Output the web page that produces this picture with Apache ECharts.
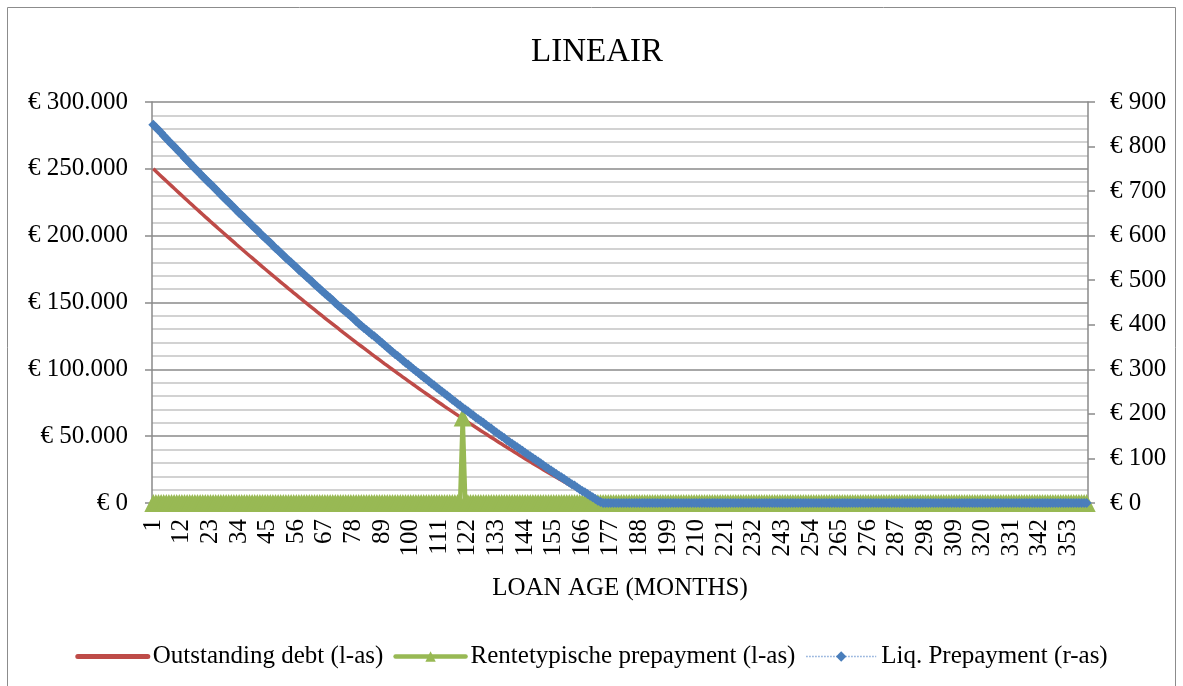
<!DOCTYPE html>
<html>
<head>
<meta charset="utf-8">
<title>LINEAIR</title>
<script src="https://cdn.jsdelivr.net/npm/echarts@6/dist/echarts.min.js"></script>
<style>
  html, body { margin: 0; padding: 0; background: #ffffff; }
  #chart { width: 1183px; height: 686px; }
</style>
</head>
<body>
<div id="chart"></div>
<script>
// Loan age in months, 1 .. 360
const months = [];
for (let m = 1; m <= 360; m++) months.push(String(m));

// Outstanding debt per month (left axis, EUR)
const outstandingDebt = [
  250000, 248160, 246330, 244500, 242670, 240850, 239040, 237230, 235420, 233620,
  231820, 230030, 228240, 226450, 224670, 222900, 221130, 219360, 217600, 215850,
  214090, 212350, 210600, 208860, 207130, 205400, 203680, 201950, 200240, 198530,
  196820, 195120, 193420, 191730, 190040, 188350, 186670, 185000, 183330, 181660,
  180000, 178350, 176690, 175040, 173400, 171760, 170130, 168500, 166870, 165250,
  163640, 162030, 160420, 158820, 157220, 155630, 154040, 152450, 150870, 149300,
  147730, 146160, 144600, 143040, 141490, 139940, 138400, 136860, 135330, 133800,
  132270, 130750, 129230, 127720, 126220, 124710, 123210, 121720, 120230, 118750,
  117270, 115790, 114320, 112860, 111390, 109940, 108480, 107040, 105590, 104150,
  102720, 101290, 99860, 98440, 97030, 95620, 94210, 92810, 91410, 90010,
  88630, 87240, 85860, 84490, 83110, 81750, 80390, 79030, 77680, 76330,
  74980, 73650, 72310, 70980, 69660, 68330, 67020, 65710, 64400, 63100,
  61800, 60500, 59220, 57930, 56650, 55380, 54100, 52840, 51580, 50320,
  49070, 47820, 46570, 45330, 44100, 42870, 41640, 40420, 39210, 37990,
  36790, 35580, 34390, 33190, 32000, 30820, 29640, 28460, 27290, 26120,
  24960, 23810, 22650, 21500, 20360, 19220, 18090, 16960, 15830, 14710,
  13590, 12480, 11370, 10270, 9170, 8080, 6990, 5900, 4820, 3750,
  2680, 1610, 550,
  0,0,0,0,0,0,0,0,0,0,0,0,0,0,0,0,0,0,0,0,
  0,0,0,0,0,0,0,0,0,0,0,0,0,0,0,0,0,0,0,0,
  0,0,0,0,0,0,0,0,0,0,0,0,0,0,0,0,0,0,0,0,
  0,0,0,0,0,0,0,0,0,0,0,0,0,0,0,0,0,0,0,0,
  0,0,0,0,0,0,0,0,0,0,0,0,0,0,0,0,0,0,0,0,
  0,0,0,0,0,0,0,0,0,0,0,0,0,0,0,0,0,0,0,0,
  0,0,0,0,0,0,0,0,0,0,0,0,0,0,0,0,0,0,0,0,
  0,0,0,0,0,0,0,0,0,0,0,0,0,0,0,0,0,0,0,0,
  0,0,0,0,0,0,0,0,0,0,0,0,0,0,0,0,0,0,0,0,
  0,0,0,0,0,0,0
];

// Rate-reset prepayment (left axis, EUR): one lump sum in month 120
const rentetypischePrepayment = [
  0,0,0,0,0,0,0,0,0,0,0,0,0,0,0,0,0,0,0,0,
  0,0,0,0,0,0,0,0,0,0,0,0,0,0,0,0,0,0,0,0,
  0,0,0,0,0,0,0,0,0,0,0,0,0,0,0,0,0,0,0,0,
  0,0,0,0,0,0,0,0,0,0,0,0,0,0,0,0,0,0,0,0,
  0,0,0,0,0,0,0,0,0,0,0,0,0,0,0,0,0,0,0,0,
  0,0,0,0,0,0,0,0,0,0,0,0,0,0,0,0,0,0,0,
  64000,
  0,0,0,0,0,0,0,0,0,0,0,0,0,0,0,0,0,0,0,0,
  0,0,0,0,0,0,0,0,0,0,0,0,0,0,0,0,0,0,0,0,
  0,0,0,0,0,0,0,0,0,0,0,0,0,0,0,0,0,0,0,0,
  0,0,0,0,0,0,0,0,0,0,0,0,0,0,0,0,0,0,0,0,
  0,0,0,0,0,0,0,0,0,0,0,0,0,0,0,0,0,0,0,0,
  0,0,0,0,0,0,0,0,0,0,0,0,0,0,0,0,0,0,0,0,
  0,0,0,0,0,0,0,0,0,0,0,0,0,0,0,0,0,0,0,0,
  0,0,0,0,0,0,0,0,0,0,0,0,0,0,0,0,0,0,0,0,
  0,0,0,0,0,0,0,0,0,0,0,0,0,0,0,0,0,0,0,0,
  0,0,0,0,0,0,0,0,0,0,0,0,0,0,0,0,0,0,0,0,
  0,0,0,0,0,0,0,0,0,0,0,0,0,0,0,0,0,0,0,0,
  0,0,0,0,0,0,0,0,0,0,0,0,0,0,0,0,0,0,0,0
];

// Liquidity prepayment per month (right axis, EUR)
const liqPrepayment = [
  849, 843, 837, 831, 824, 818, 812, 806, 800, 794,
  788, 782, 775, 769, 763, 757, 751, 745, 739, 733,
  727, 721, 716, 710, 704, 698, 692, 686, 680, 675,
  669, 663, 657, 651, 646, 640, 634, 629, 623, 617,
  612, 606, 600, 595, 589, 584, 578, 572, 567, 561,
  556, 550, 545, 540, 534, 529, 523, 518, 513, 507,
  502, 497, 491, 486, 481, 475, 470, 465, 460, 455,
  449, 444, 439, 434, 429, 424, 419, 414, 408, 403,
  398, 393, 388, 383, 378, 374, 369, 364, 359, 354,
  349, 344, 339, 334, 330, 325, 320, 315, 311, 306,
  301, 296, 292, 287, 282, 278, 273, 268, 264, 259,
  255, 250, 246, 241, 237, 232, 228, 223, 219, 214,
  210, 206, 201, 197, 192, 188, 184, 180, 175, 171,
  167, 162, 158, 154, 150, 146, 141, 137, 133, 129,
  125, 121, 117, 113, 109, 105, 101, 97, 93, 89,
  85, 81, 77, 73, 69, 65, 61, 58, 54, 50,
  46, 42, 39, 35, 31, 27, 24, 20, 16, 13,
  9, 5, 2,
  0,0,0,0,0,0,0,0,0,0,0,0,0,0,0,0,0,0,0,0,
  0,0,0,0,0,0,0,0,0,0,0,0,0,0,0,0,0,0,0,0,
  0,0,0,0,0,0,0,0,0,0,0,0,0,0,0,0,0,0,0,0,
  0,0,0,0,0,0,0,0,0,0,0,0,0,0,0,0,0,0,0,0,
  0,0,0,0,0,0,0,0,0,0,0,0,0,0,0,0,0,0,0,0,
  0,0,0,0,0,0,0,0,0,0,0,0,0,0,0,0,0,0,0,0,
  0,0,0,0,0,0,0,0,0,0,0,0,0,0,0,0,0,0,0,0,
  0,0,0,0,0,0,0,0,0,0,0,0,0,0,0,0,0,0,0,0,
  0,0,0,0,0,0,0,0,0,0,0,0,0,0,0,0,0,0,0,0,
  0,0,0,0,0,0,0
];

// Axis ranges: [min, max, step]
const leftAxisRange = [0, 300000, 50000];
const rightAxisRange = [0, 900, 100];

const seriesNames = ['Outstanding debt (l-as)', 'Rentetypische prepayment (l-as)', 'Liq. Prepayment (r-as)'];
const colors = { debt: '#be4b48', rate: '#98b954', liq: '#4a7ebb', liqLine: '#86a9d8' };

const FONT = '"Liberation Serif", "Times New Roman", serif';
const GRID_MAJOR = '#8a8a8a';
const GRID_MINOR = '#c4c4c4';

function euro(v) {
  return '€ ' + String(v).replace(/\B(?=(\d{3})+(?!\d))/g, '.');
}

const chart = echarts.init(document.getElementById('chart'), null, { renderer: 'canvas' });

chart.setOption({
  animation: false,
  backgroundColor: '#ffffff',
  textStyle: { fontFamily: FONT, color: '#000' },
  title: {
    text: 'LINEAIR',
    left: 531,
    top: 36,
    padding: 0,
    textStyle: { fontFamily: FONT, fontSize: 33, fontWeight: 'normal', color: '#000' }
  },
  graphic: [{
    type: 'rect',
    silent: true,
    z: -10,
    shape: { x: 7.5, y: 7.5, width: 1168, height: 700 },
    style: { fill: 'none', stroke: '#8c8c8c', lineWidth: 1 }
  }],
  grid: { left: 152, right: 95, top: 102, bottom: 183, containLabel: false },
  legend: {
    left: 'center',
    top: 639,
    itemWidth: 70,
    itemHeight: 13,
    itemGap: 10,
    textStyle: { fontFamily: FONT, fontSize: 25, color: '#000' },
    data: [
      { name: seriesNames[0], lineStyle: { width: 5, cap: 'round' }, itemStyle: { opacity: 0 } },
      { name: seriesNames[1], lineStyle: { width: 4.5, cap: 'round' } },
      { name: seriesNames[2], lineStyle: { width: 1.5, type: 'dotted' } }
    ]
  },
  xAxis: {
    type: 'category',
    data: months,
    boundaryGap: true,
    name: 'LOAN AGE (MONTHS)',
    nameLocation: 'middle',
    nameGap: 73,
    nameTextStyle: { fontFamily: FONT, fontSize: 25, color: '#000' },
    axisLine: { show: true, lineStyle: { color: GRID_MAJOR, width: 1 } },
    axisTick: { show: false },
    axisLabel: {
      interval: 10,
      rotate: 90,
      margin: 16,
      fontFamily: FONT,
      fontSize: 25,
      color: '#000'
    },
    splitLine: { show: false }
  },
  yAxis: [{
    type: 'value',
    position: 'left',
    min: leftAxisRange[0],
    max: leftAxisRange[1],
    interval: leftAxisRange[2],
    axisLine: { show: true, lineStyle: { color: GRID_MAJOR, width: 1.5 } },
    axisTick: { show: true, inside: false, length: 7, lineStyle: { color: GRID_MAJOR, width: 1.5 } },
    minorTick: { show: false, splitNumber: 5 },
    minorSplitLine: { show: true, lineStyle: { color: GRID_MINOR, width: 1.5 } },
    splitLine: { show: true, lineStyle: { color: GRID_MAJOR, width: 1.5 } },
    axisLabel: { margin: 24, fontFamily: FONT, fontSize: 25, color: '#000', formatter: euro }
  }, {
    type: 'value',
    position: 'right',
    min: rightAxisRange[0],
    max: rightAxisRange[1],
    interval: rightAxisRange[2],
    axisLine: { show: true, lineStyle: { color: GRID_MAJOR, width: 1.5 } },
    axisTick: { show: true, inside: false, length: 7, lineStyle: { color: GRID_MAJOR, width: 1.5 } },
    splitLine: { show: false },
    axisLabel: { margin: 22, fontFamily: FONT, fontSize: 25, color: '#000', formatter: euro }
  }],
  series: [{
    name: seriesNames[0],
    type: 'line',
    yAxisIndex: 0,
    data: outstandingDebt,
    symbol: 'none',
    z: 2,
    lineStyle: { color: colors.debt, width: 3.5 },
    itemStyle: { color: colors.debt }
  }, {
    name: seriesNames[1],
    type: 'line',
    yAxisIndex: 0,
    data: rentetypischePrepayment,
    symbol: 'triangle',
    symbolSize: 18,
    showAllSymbol: true,
    z: 3,
    lineStyle: { color: colors.rate, width: 4.5 },
    itemStyle: { color: colors.rate }
  }, {
    name: seriesNames[2],
    type: 'line',
    yAxisIndex: 1,
    data: liqPrepayment,
    symbol: 'diamond',
    symbolSize: 10,
    showAllSymbol: true,
    z: 4,
    lineStyle: { color: colors.liqLine, width: 1, type: 'dotted' },
    itemStyle: { color: colors.liq }
  }]
});
</script>
</body>
</html>
